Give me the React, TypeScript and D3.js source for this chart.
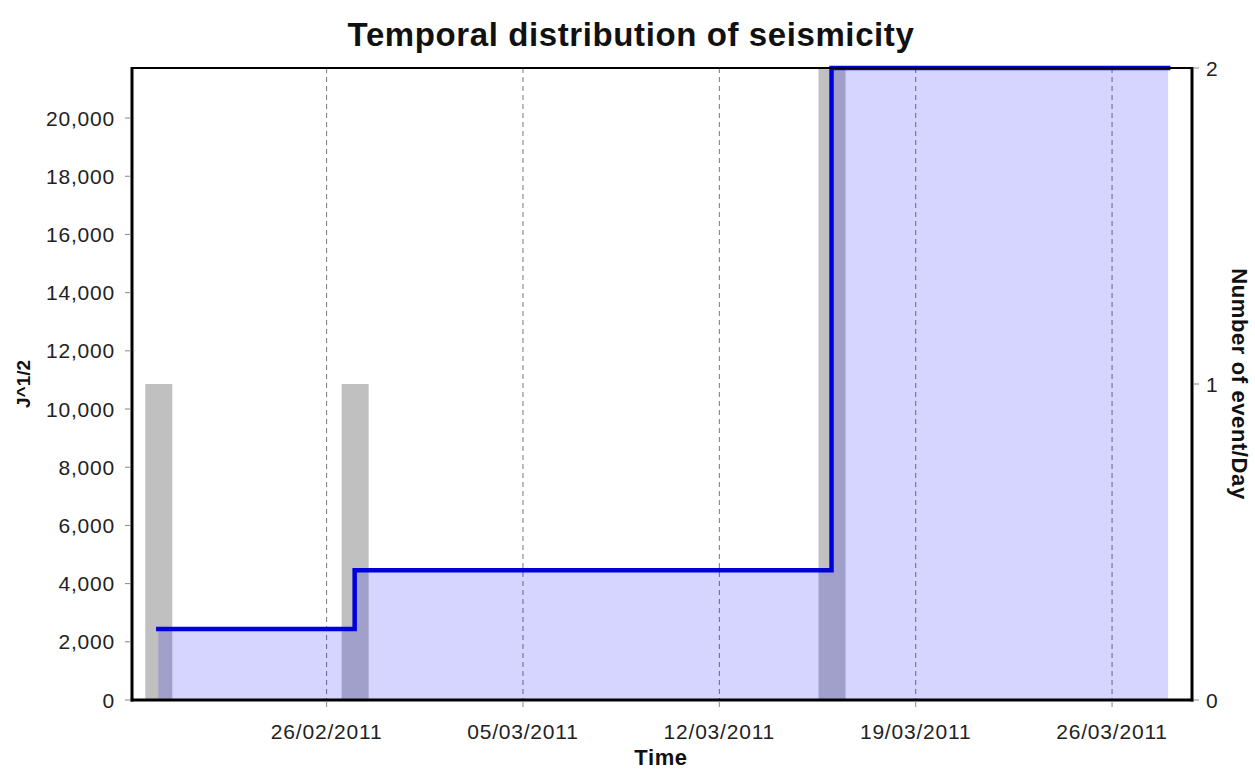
import React from 'react';
import * as d3 from 'd3';

// event days (one bar per day with events)
const eventDays = ['2011-02-20', '2011-02-27', '2011-03-16'];
const eventCounts = [1, 1, 2];
// cumulative strain release J^1/2 after each event day
const cumulativeJ = [2440, 4460, 21720];
const lineEndDay = '2011-03-28';

const xTickDays = ['2011-02-26', '2011-03-05', '2011-03-12', '2011-03-19', '2011-03-26'];
const leftTicks = [0, 2000, 4000, 6000, 8000, 10000, 12000, 14000, 16000, 18000, 20000];
const rightTicks = [0, 1, 2];

const W = 1255;
const H = 771;
const margin = { top: 68, right: 63, bottom: 71, left: 132 };
const font = '"Liberation Sans", Arial, sans-serif';

const parse = d3.utcParse('%Y-%m-%d');
const fmtDay = d3.utcFormat('%d/%m/%Y');
const fmtNum = d3.format(',');

export default function App() {
  const x0 = margin.left;
  const x1 = W - margin.right;
  const y0 = H - margin.bottom;
  const y1 = margin.top;

  const x = d3
    .scaleUtc()
    .domain([new Date(Date.UTC(2011, 1, 19, 1, 30)), new Date(Date.UTC(2011, 2, 28, 20, 24))])
    .range([x0, x1]);
  const yLeft = d3.scaleLinear().domain([0, 21720]).range([y0, y1]);
  const yRight = d3.scaleLinear().domain([0, 2]).range([y0, y1]);

  const days = eventDays.map((d) => parse(d) as Date);
  const dayW = x(parse('2011-02-21') as Date) - x(parse('2011-02-20') as Date);

  const stepPts: [Date, number][] = days.map((d, i) => [d, cumulativeJ[i]]);
  stepPts.push([parse(lineEndDay) as Date, cumulativeJ[cumulativeJ.length - 1]]);

  const line = d3
    .line<[Date, number]>()
    .x((d) => x(d[0]))
    .y((d) => yLeft(d[1]))
    .curve(d3.curveStepAfter);
  const area = d3
    .area<[Date, number]>()
    .x((d) => x(d[0]))
    .y0(y0)
    .y1((d) => yLeft(d[1]))
    .curve(d3.curveStepAfter);

  const tickStyle = { fontFamily: font, fontSize: 21, letterSpacing: 0.8, fill: '#222' };

  return (
    <div style={{ position: 'absolute', left: 0, top: 0 }}>
      <svg width={W} height={H} style={{ display: 'block', background: '#fff' }}>
        <text x={631} y={46} textAnchor="middle" fontFamily={font} fontWeight="bold" fontSize={33} letterSpacing={0.6} fill="#111">
          Temporal distribution of seismicity
        </text>

        {/* gridlines */}
        {xTickDays.map((d) => {
          const xx = x(parse(d) as Date);
          return (
            <line key={'g' + d} x1={xx} x2={xx} y1={y1} y2={y0} stroke="#777" strokeWidth={1} strokeDasharray="5,4" />
          );
        })}

        {/* event-count bars */}
        {days.map((d, i) => (
          <rect
            key={'b' + i}
            x={x(d) - dayW / 2 + 1}
            width={dayW - 1}
            y={yRight(eventCounts[i])}
            height={y0 - yRight(eventCounts[i])}
            fill="#c0c0c0"
          />
        ))}

        {/* cumulative area + line */}
        <path d={area(stepPts) || ''} fill="rgb(0,0,255)" fillOpacity={0.165} />
        <path d={line(stepPts) || ''} fill="none" stroke="#0000dd" strokeWidth={4.5} strokeLinecap="square" />

        {/* frame */}
        <line x1={x0} x2={x1} y1={y1} y2={y1} stroke="#000" strokeWidth={2} />
        <line x1={x0} x2={x0} y1={y1 - 1} y2={y0 + 1.5} stroke="#000" strokeWidth={3} />
        <line x1={x1} x2={x1} y1={y1 - 1} y2={y0 + 1.5} stroke="#000" strokeWidth={3} />
        <line x1={x0 - 1.5} x2={x1 + 1.5} y1={y0} y2={y0} stroke="#000" strokeWidth={3} />

        {/* left axis */}
        {leftTicks.map((t) => (
          <g key={'l' + t}>
            <line x1={x0 - 7} x2={x0 - 1} y1={yLeft(t)} y2={yLeft(t)} stroke="#888" />
            <text x={x0 - 17} y={yLeft(t)} dy="0.36em" textAnchor="end" {...tickStyle}>
              {fmtNum(t)}
            </text>
          </g>
        ))}
        <text
          transform={`translate(30,${(y0 + y1) / 2}) rotate(-90)`}
          textAnchor="middle"
          fontFamily={font}
          fontWeight="bold"
          fontSize={19}
          fill="#111"
        >
          J^1/2
        </text>

        {/* right axis */}
        {rightTicks.map((t) => (
          <g key={'r' + t}>
            <line x1={x1 + 1} x2={x1 + 7} y1={yRight(t)} y2={yRight(t)} stroke="#888" />
            <text x={x1 + 14} y={yRight(t)} dy="0.36em" {...tickStyle}>
              {t}
            </text>
          </g>
        ))}
        <text
          transform={`translate(1232,${(y0 + y1) / 2}) rotate(90)`}
          textAnchor="middle"
          fontFamily={font}
          fontWeight="bold"
          fontSize={22}
          letterSpacing={0.6}
          fill="#111"
        >
          Number of event/Day
        </text>

        {/* x axis */}
        {xTickDays.map((d) => {
          const xx = x(parse(d) as Date);
          return (
            <g key={'x' + d}>
              <line x1={xx} x2={xx} y1={y0 + 1} y2={y0 + 7} stroke="#888" />
              <text x={xx} y={y0 + 39} textAnchor="middle" {...tickStyle}>
                {fmtDay(parse(d) as Date)}
              </text>
            </g>
          );
        })}
        <text x={661} y={765} textAnchor="middle" fontFamily={font} fontWeight="bold" fontSize={22} letterSpacing={0.6} fill="#111">
          Time
        </text>
      </svg>
    </div>
  );
}
